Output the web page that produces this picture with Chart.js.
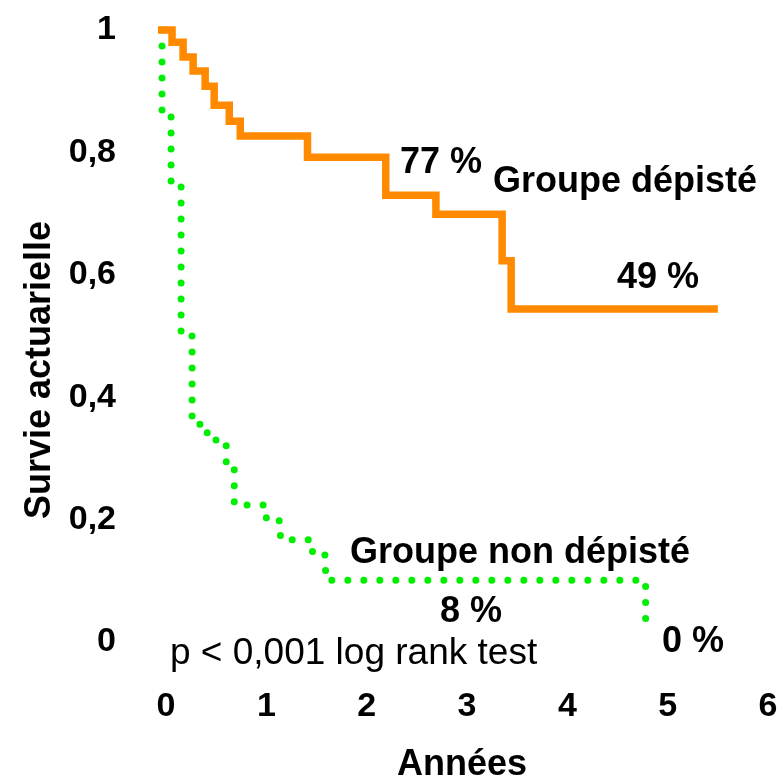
<!DOCTYPE html>
<html lang="fr">
<head>
  <meta charset="UTF-8">
  <title>Survie actuarielle</title>
  <script src="https://cdn.jsdelivr.net/npm/chart.js"></script>
  <style>
    body { margin: 0; background: #fff; }
    #wrap { width: 783px; height: 779px; }
  </style>
</head>
<body>
  <div id="wrap">
    <canvas id="survieChart" width="783" height="779"></canvas>
  </div>

  <script>
    // Groupe dépisté (courbe orange en escalier)
    const depisteAnnees = [-0.08, 0.06, 0.17, 0.27, 0.39, 0.48, 0.63, 0.74, 1.41, 2.19, 2.69, 3.35, 3.44, 5.50];
    const depisteSurvie = [1.0, 0.980, 0.956, 0.933, 0.908, 0.877, 0.851, 0.827, 0.792, 0.730, 0.699, 0.623, 0.544, 0.544];

    // Groupe non dépisté (courbe verte pointillée)
    const nonDepisteAnnees = [-0.04, -0.04, 0.05, 0.15, 0.26, 0.41, 0.60, 0.68, 1.00, 1.14, 1.46, 1.59, 4.78];
    const nonDepisteSurvie = [1.0, 0.861, 0.745, 0.500, 0.356, 0.330, 0.284, 0.224, 0.198, 0.167, 0.142, 0.101, 0.028];

    const xTicks = [0, 1, 2, 3, 4, 5, 6];
    const yTicks = [0, 0.2, 0.4, 0.6, 0.8, 1];
    const yTickLabels = ['0', '0,2', '0,4', '0,6', '0,8', '1'];

    const FONT = "'Liberation Sans', Arial, sans-serif";

    const toPoints = (xs, ys) => xs.map((x, i) => ({ x: x, y: ys[i] }));

    // textes posés sur le graphique
    const annotations = {
      id: 'annotations',
      afterDraw(chart) {
        const ctx = chart.ctx;
        ctx.save();
        ctx.fillStyle = '#000';
        ctx.textAlign = 'left';
        ctx.textBaseline = 'alphabetic';
        const bold = 'bold 36px ' + FONT;
        [
          ['77 %', 400, 173, bold],
          ['Groupe dépisté', 493, 192, bold],
          ['49 %', 617, 288, bold],
          ['Groupe non dépisté', 350, 563, bold],
          ['8 %', 440, 622, bold],
          ['p < 0,001 log rank test', 170, 664, '37px ' + FONT],
          ['0 %', 662, 652, bold]
        ].forEach(t => {
          ctx.font = t[3];
          ctx.fillText(t[0], t[1], t[2]);
        });

        // titre de l'axe vertical
        ctx.translate(40, 370);
        ctx.rotate(-Math.PI / 2);
        ctx.textAlign = 'center';
        ctx.textBaseline = 'middle';
        ctx.font = 'bold 36px ' + FONT;
        ctx.fillText('Survie actuarielle', 0, 0);
        ctx.restore();
      }
    };

    new Chart(document.getElementById('survieChart'), {
      type: 'line',
      data: {
        datasets: [
          {
            label: 'Groupe dépisté',
            data: toPoints(depisteAnnees, depisteSurvie),
            stepped: 'before',
            borderColor: '#ff8a00',
            borderWidth: 7.5,
            borderCapStyle: 'butt',
            borderJoinStyle: 'miter',
            pointRadius: 0,
            fill: false,
            clip: 12
          },
          {
            label: 'Groupe non dépisté',
            data: toPoints(nonDepisteAnnees, nonDepisteSurvie),
            stepped: 'before',
            borderColor: '#00ee00',
            borderWidth: 7,
            borderDash: [0, 16],
            borderCapStyle: 'round',
            pointRadius: 0,
            fill: false,
            clip: 12
          }
        ]
      },
      options: {
        responsive: false,
        animation: false,
        layout: { padding: { top: 30, right: 15, left: 0, bottom: 0 } },
        plugins: {
          legend: { display: false },
          tooltip: { enabled: false }
        },
        scales: {
          x: {
            type: 'linear',
            min: -0.1,
            max: 6,
            afterBuildTicks: scale => { scale.ticks = xTicks.map(v => ({ value: v })); },
            afterFit: scale => { scale.height = 137; },
            // tick marks kept invisible; their length spaces the labels
            grid: { display: true, color: 'rgba(0,0,0,0)', drawOnChartArea: false, drawTicks: true, tickLength: 44 },
            border: { display: false },
            ticks: {
              padding: 0,
              color: '#000',
              font: { family: FONT, size: 34, weight: 'bold' }
            },
            title: {
              display: true,
              text: 'Années',
              color: '#000',
              padding: { top: 0, bottom: -4 },
              font: { family: FONT, size: 36, weight: 'bold', lineHeight: 1 }
            }
          },
          y: {
            min: 0,
            max: 1,
            afterBuildTicks: scale => { scale.ticks = yTicks.map(v => ({ value: v })); },
            afterFit: scale => { scale.width = 156; },
            grid: { display: true, color: 'rgba(0,0,0,0)', drawOnChartArea: false, drawTicks: true, tickLength: 40 },
            border: { display: false },
            ticks: {
              padding: 0,
              color: '#000',
              font: { family: FONT, size: 34, weight: 'bold' },
              callback: (value, index) => yTickLabels[index]
            }
          }
        }
      },
      plugins: [annotations]
    });
  </script>
</body>
</html>
